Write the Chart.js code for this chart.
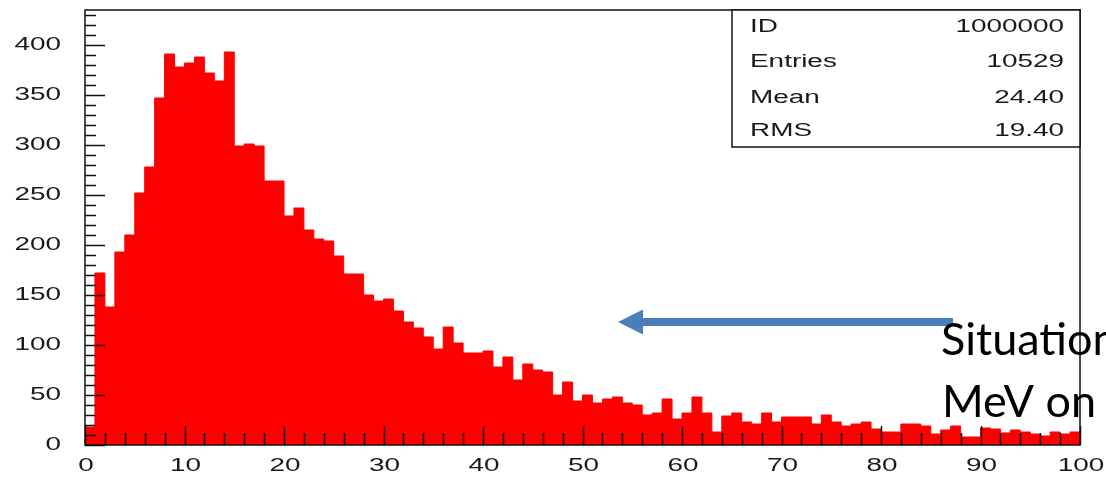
<!DOCTYPE html>
<html>
<head>
<meta charset="utf-8">
<script src="https://cdn.jsdelivr.net/npm/chart.js@4.4.1/dist/chart.umd.min.js"></script>
<style>
  html, body { margin: 0; padding: 0; background: #ffffff; }
  #wrap { width: 1106px; height: 477px; position: relative; }
</style>
</head>
<body>
<div id="wrap"><canvas id="c" width="1106" height="477"></canvas></div>
<script>
// ---- Data ----
const binEdges = [0, 100];           // histogram range
const counts = [
  18, 172, 138, 193, 210, 252, 278, 347, 391, 378,
  382, 388, 372, 364, 393, 299, 301, 299, 264, 264,
  229, 237, 215, 206, 204, 189, 171, 171, 150, 144,
  146, 134, 123, 117, 108, 96, 118, 102, 92, 92,
  94, 78, 88, 65, 81, 75, 73, 50, 63, 44,
  50, 42, 46, 48, 42, 40, 30, 32, 46, 26,
  32, 48, 32, 13, 29, 32, 23, 21, 32, 23,
  28, 28, 28, 21, 30, 23, 19, 21, 23, 16,
  13, 13, 21, 21, 19, 11, 15, 19, 8, 8,
  17, 16, 12, 15, 13, 11, 9, 13, 11, 13
];
const yTicks = [0, 50, 100, 150, 200, 250, 300, 350, 400];
const xTicks = [0, 10, 20, 30, 40, 50, 60, 70, 80, 90, 100];
const statLabels = ["ID", "Entries", "Mean", "RMS"];
const statValues = ["1000000", "10529", "24.40", "19.40"];
const noteLines = ["Situation", "MeV on"];

// Build step-histogram points (bin left edges + closing edge)
const binWidth = (binEdges[1] - binEdges[0]) / counts.length;
const histPoints = counts.map((v, i) => ({ x: binEdges[0] + i * binWidth, y: v }));
histPoints.push({ x: binEdges[1], y: counts[counts.length - 1] });

const TXT = '#1a1a1a';
const FONT = '18px "Liberation Sans"';
const STRETCH = 1.55;

function stretchedText(ctx, text, x, y, align) {
  ctx.save();
  ctx.translate(x, y);
  ctx.scale(STRETCH, 1);
  ctx.font = FONT;
  ctx.fillStyle = TXT;
  ctx.textAlign = align;
  ctx.textBaseline = 'middle';
  ctx.fillText(text, 0, 0);
  ctx.restore();
}

const decorPlugin = {
  id: 'decor',
  afterDatasetsDraw(chart) {
    const ctx = chart.ctx;
    const a = chart.chartArea;
    const xs = chart.scales.x, ys = chart.scales.y;
    ctx.save();
    ctx.strokeStyle = '#111';
    ctx.lineWidth = 1.5;
    // y ticks (inside)
    for (let v = 0; v <= ys.max; v += 10) {
      const y = Math.round(ys.getPixelForValue(v)) + 0.5;
      const len = (v % 50 === 0) ? 20 : 11;
      ctx.beginPath(); ctx.moveTo(a.left, y); ctx.lineTo(a.left + len, y); ctx.stroke();
    }
    // x ticks (inside)
    for (let v = 0; v <= 100; v += 2) {
      const x = Math.round(xs.getPixelForValue(v)) + 0.5;
      const len = (v % 10 === 0) ? 19 : 12;
      ctx.beginPath(); ctx.moveTo(x, a.bottom); ctx.lineTo(x, a.bottom - len); ctx.stroke();
    }
    // frame
    ctx.strokeRect(a.left, a.top, a.right - a.left, a.bottom - a.top);

    // tick labels from the scales
    yTicks.forEach(v => stretchedText(ctx, String(v), 61, ys.getPixelForValue(v), 'right'));
    xTicks.forEach(v => stretchedText(ctx, String(v), xs.getPixelForValue(v) + 1, a.bottom + 21, 'center'));

    // stats box
    const bx = 732, by = a.top, bw = a.right - 732, bh = 137;
    ctx.fillStyle = '#fff';
    ctx.fillRect(bx, by, bw, bh);
    ctx.strokeRect(bx, by, bw, bh);
    const rows = [27, 62, 98, 131];
    statLabels.forEach((s, i) => {
      stretchedText(ctx, s, 750, rows[i], 'left');
      stretchedText(ctx, statValues[i], 1064, rows[i], 'right');
    });
    ctx.restore();
  },
  afterDraw(chart) {
    const ctx = chart.ctx;
    ctx.save();
    // arrow
    ctx.fillStyle = '#4a7ebb';
    ctx.fillRect(640, 318, 313, 8);
    ctx.beginPath();
    ctx.moveTo(618, 322); ctx.lineTo(643, 309.5); ctx.lineTo(643, 334.5); ctx.closePath();
    ctx.fill();
    // note text
    ctx.fillStyle = '#000';
    ctx.font = '45px Lato';
    ctx.textAlign = 'left';
    ctx.textBaseline = 'alphabetic';
    ctx.fillText(noteLines[0], 941, 355);
    ctx.fillText(noteLines[1], 942, 417);
    ctx.restore();
  }
};

new Chart(document.getElementById('c'), {
  type: 'line',
  data: {
    datasets: [{
      data: histPoints,
      stepped: 'before',
      fill: 'origin',
      backgroundColor: '#ff0000',
      borderColor: '#ff0000',
      borderWidth: 1,
      pointRadius: 0,
      tension: 0
    }]
  },
  options: {
    responsive: false,
    devicePixelRatio: 1,
    animation: false,
    events: [],
    layout: { padding: { left: 0, right: 26, top: 10, bottom: 0 } },
    plugins: { legend: { display: false }, tooltip: { enabled: false } },
    scales: {
      x: {
        type: 'linear', min: binEdges[0], max: binEdges[1], offset: false,
        grid: { display: false, drawTicks: false },
        border: { display: false },
        ticks: { display: false },
        afterFit(s) { s.height = 32; s.paddingLeft = 0; s.paddingRight = 0; s.paddingTop = 0; s.paddingBottom = 0; },
        afterBuildTicks(s) { s.ticks = xTicks.map(v => ({ value: v })); }
      },
      y: {
        type: 'linear', min: 0, max: 435,
        grid: { display: false, drawTicks: false },
        border: { display: false },
        ticks: { display: false },
        afterFit(s) { s.width = 85; s.paddingLeft = 0; s.paddingRight = 0; s.paddingTop = 0; s.paddingBottom = 0; },
        afterBuildTicks(s) { s.ticks = yTicks.map(v => ({ value: v })); }
      }
    }
  },
  plugins: [decorPlugin]
});
</script>
</body>
</html>
